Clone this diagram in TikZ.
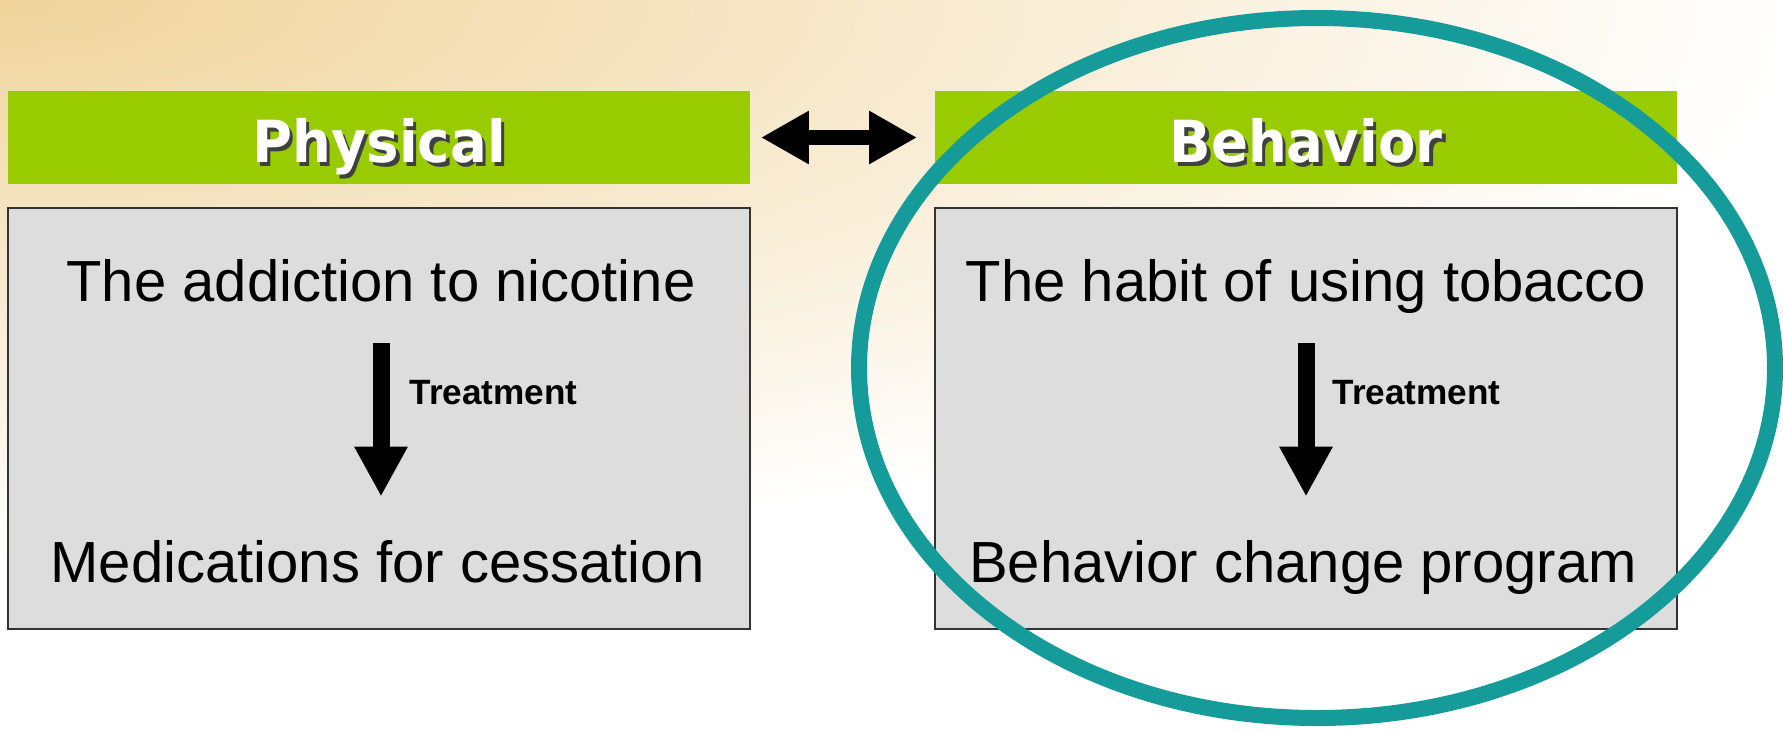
\documentclass[tikz,border=0pt]{standalone}
\usepackage{fontspec}
\setmainfont{Liberation Sans}
\newfontfamily\headfont{DejaVu Sans Bold}[FakeStretch=0.94]
\usetikzlibrary{arrows.meta}

\definecolor{barGreen}{RGB}{153,204,0}
\definecolor{boxGray}{RGB}{221,221,221}
\definecolor{ringTeal}{RGB}{22,155,155}
\definecolor{bgTan}{RGB}{240,212,155}

\newcommand{\shadowed}[1]{\makebox[0pt][l]{\kern1pt\raisebox{-1pt}{\textcolor{black!75}{#1}}}#1}

\def\Lx{379}
\def\Rx{1306}

\begin{document}
\begin{tikzpicture}[x=0.01cm, y=-0.01cm,
    bar/.style={fill=barGreen, minimum width=7.42cm, minimum height=0.93cm, inner sep=0, text height=0.5cm, text depth=0pt, text=white, font=\headfont\fontsize{16.5}{20}\selectfont},
    panel/.style={draw=black!80, line width=0.02cm, fill=boxGray, minimum width=7.42cm, minimum height=4.21cm},
    item/.style={inner sep=0, text height=0.42cm, text depth=0pt, anchor=south, font=\fontsize{16.5}{20}\selectfont},
    treat/.style={inner sep=0, font=\bfseries\fontsize{10}{12}\selectfont},
    down/.style={line width=0.17cm, -{Triangle[width=0.5cm, length=0.5cm]}, shorten <=0.41cm, shorten >=0.43cm},
    link/.style={line width=0.15cm, {Triangle[width=0.5cm, length=0.48cm]}-{Triangle[width=0.5cm, length=0.48cm]}, shorten <=0.1cm, shorten >=0.17cm},
    ring/.style={draw=ringTeal, line width=0.16cm}]
    \useasboundingbox (0,0) rectangle (1783,730);
    \begin{scope}
        \clip (0,0) rectangle (1783,730);
        \shade[inner color=bgTan, outer color=white] (0,0) ellipse [x radius=1800, y radius=560];
    \end{scope}

    \node[bar] (physBar) at (\Lx,137.5) {\shadowed{Physical}};
    \node[bar] (behBar) at (\Rx,137.5) {\shadowed{Behavior}};
    \node[panel] (physBox) at (\Lx,418.5) {};
    \node[panel] (behBox) at (\Rx,418.5) {};

    \node[item] (nicL) at (381,302) {The addiction to nicotine};
    \node[item] (medL) at (378,583) {Medications for cessation};
    \node[item] (habR) at (1306,302) {The habit of using tobacco};
    \node[item] (progR) at (1303,583) {Behavior change program};

    \draw[link] (physBar) -- (behBar);
    \draw[down] (nicL.south) -- (nicL.south |- medL.north) node[pos=0.38, right=0.2cm, treat] {Treatment};
    \draw[down] (habR.south) -- (habR.south |- progR.north) node[pos=0.38, right=0.18cm, treat] {Treatment};

    \draw[ring] (1317,368) ellipse [x radius=458, y radius=350];
\end{tikzpicture}
\end{document}
